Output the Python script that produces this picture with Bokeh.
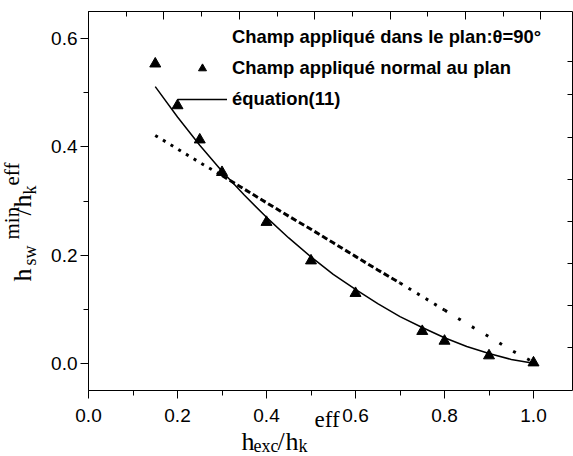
import math
from bokeh.plotting import figure
from bokeh.models import (Range1d, LinearAxis, SingleIntervalTicker, FixedTicker,
                          PrintfTickFormatter, CustomJSTickFormatter, Label,
                          Legend, LegendItem)
from bokeh.embed import file_html
from bokeh.resources import INLINE

# ---- data ----
x_tri = [0.15, 0.20, 0.25, 0.30, 0.40, 0.50, 0.60, 0.75, 0.80, 0.90, 1.00]
y_tri = [0.553, 0.476, 0.413, 0.353, 0.261, 0.190, 0.130, 0.060, 0.042, 0.015, 0.002]

x_eq = [0.15, 0.20, 0.25, 0.30, 0.35, 0.40, 0.45, 0.50, 0.55, 0.60, 0.65,
        0.70, 0.75, 0.80, 0.85, 0.90, 0.95, 1.00]
y_eq = [0.511, 0.455, 0.403, 0.355, 0.311, 0.270, 0.232, 0.197, 0.165, 0.137,
        0.111, 0.087, 0.067, 0.048, 0.032, 0.019, 0.008, 0.001]

x_plan = [0.15, 0.20, 0.25, 0.30, 0.35, 0.40, 0.45, 0.50, 0.55, 0.60, 0.65,
          0.70, 0.75, 0.80, 0.85, 0.90, 0.95, 1.00]
y_plan = [0.421, 0.396, 0.371, 0.347, 0.322, 0.297, 0.272, 0.248, 0.223, 0.198,
          0.173, 0.149, 0.124, 0.099, 0.074, 0.050, 0.025, 0.003]

legend_labels = ["Champ appliqué dans le plan:θ=90°",
                 "Champ appliqué normal au plan",
                 "équation(11)"]

# ---- geometry of the picture (pixels) ----
W, H = 573, 456
AX_L, AX_R, AX_T, AX_B = 88, 572, 11, 390      # axes box in canvas pixels
PX_X = 445.0                                     # pixels per x unit
PX_Y = 542.5                                     # pixels per y unit
Y0_PIX = 363.3                                   # canvas row of y = 0

XMIN, XMAX = 0.0, (AX_R - AX_L) / PX_X
YMIN, YMAX = (Y0_PIX - AX_B) / PX_Y, (Y0_PIX - AX_T) / PX_Y

# the frame covers the whole canvas; axes sit at fixed locations inside it
p = figure(width=W, height=H,
           x_range=Range1d(-AX_L / PX_X, (W - AX_L) / PX_X),
           y_range=Range1d((Y0_PIX - H) / PX_Y, Y0_PIX / PX_Y),
           output_backend="svg", toolbar_location=None,
           min_border=0, min_border_left=0, min_border_right=0,
           min_border_top=0, min_border_bottom=0)
p.grid.visible = False
p.outline_line_color = None
p.background_fill_color = "white"
p.border_fill_color = "white"

TICKFONT = "Liberation Sans"
xa, ya = p.xaxis[0], p.yaxis[0]
xa.fixed_location = YMIN
xa.bounds = (XMIN, XMAX)
ya.fixed_location = XMIN
ya.bounds = (YMIN, YMAX)
for ax in (xa, ya):
    ax.ticker = SingleIntervalTicker(interval=0.2, num_minor_ticks=2)
    ax.formatter = PrintfTickFormatter(format="%.1f")
    ax.major_tick_out = 8
    ax.major_tick_in = 0
    ax.minor_tick_out = 5
    ax.minor_tick_in = 0
    ax.axis_line_color = "black"
    ax.major_tick_line_color = "black"
    ax.minor_tick_line_color = "black"
    ax.major_label_text_font = TICKFONT
    ax.major_label_text_font_size = "19px"
    ax.major_label_text_color = "black"
xa.major_label_standoff = 10
ya.major_label_standoff = 3

blank = CustomJSTickFormatter(code="return ''")

# top axis: its own tick spacing (37.7 px per 0.1)
TOP_PX = 377.0
p.extra_x_ranges = {"top": Range1d(-AX_L / TOP_PX, (W - AX_L) / TOP_PX)}
top = LinearAxis(x_range_name="top", ticker=SingleIntervalTicker(interval=0.2, num_minor_ticks=2),
                 formatter=blank, major_tick_in=8, major_tick_out=0, minor_tick_in=5,
                 minor_tick_out=0, major_label_standoff=0, axis_line_color="black",
                 fixed_location=YMAX, bounds=(0, (AX_R - AX_L) / TOP_PX))
p.add_layout(top, "above")

# right axis: its own tick spacing (42.1 px per 0.1)
RT_PX = 421.0
R0 = -0.002
p.extra_y_ranges = {"right": Range1d(R0 - (H - AX_B) / RT_PX, R0 + AX_B / RT_PX)}
right = LinearAxis(y_range_name="right",
                   ticker=FixedTicker(ticks=[0.1, 0.2, 0.3, 0.4, 0.5, 0.6, 0.7, 0.78], minor_ticks=[]),
                   formatter=blank, major_tick_in=5, major_tick_out=0, minor_tick_in=0,
                   minor_tick_out=0, major_label_standoff=0, axis_line_color="black",
                   fixed_location=XMAX, bounds=(R0, R0 + (AX_B - AX_T) / RT_PX))
p.add_layout(right, "right")

# ---- series ----
r_eq = p.line(x_eq, y_eq, line_color="black", line_width=1.5)

segs = [(0, 4, "3 6"), (3, 12, "6 3"), (11, 14, "3 7"), (13, 18, "3 13")]
for a, b, dash in segs:
    p.line(x_plan[a:b], y_plan[a:b], line_color="black", line_width=3, line_dash=dash)
r_plan_leg = p.line(x=[], y=[], line_color="black", line_width=3, line_dash="3 9")

r_tri = p.scatter(x_tri, y_tri, marker="triangle", size=11, color="black")

legend = Legend(items=[LegendItem(label=legend_labels[0], renderers=[r_plan_leg]),
                       LegendItem(label=legend_labels[1], renderers=[r_tri]),
                       LegendItem(label=legend_labels[2], renderers=[r_eq])],
                location=(177, H - 110), glyph_width=50, glyph_height=20, label_height=20,
                label_standoff=5, spacing=9, padding=0, margin=0,
                border_line_color=None, background_fill_alpha=0,
                label_text_font="Liberation Sans", label_text_font_style="bold",
                label_text_font_size="18.4px", label_text_color="black")
p.add_layout(legend)

# ---- axis titles made of pieces ----
# (cx, cy) = canvas pixel position of the start of each piece's baseline
SERIF = "Liberation Serif"
DESC = 0.216          # descent of the serif face, in em

def piece(text, cx, cy, size, angle=0.0):
    d = DESC * size
    if angle:
        cx += d
    else:
        cy += d
    p.add_layout(Label(x=cx, y=H - cy, x_units="screen", y_units="screen",
                       text=text, angle=angle, text_font=SERIF, text_font_size=f"{size}px",
                       text_align="left", text_baseline="bottom", text_color="black"))

# x title  h_exc / h_k^eff
piece("h", 241, 450, 26)
piece("exc", 253, 452, 18)
piece("/", 277, 450, 26)
piece("h", 285, 450, 26)
piece("k", 298, 452, 18)
piece("eff", 314, 427, 23)

# y title  h_sw^min / h_k^eff  (rotated, reads bottom to top)
A = math.pi / 2
piece("h", 31, 281, 26, A)
piece("sw", 36, 265, 18, A)
piece("min", 19, 239, 21, A)
piece("/", 31, 215, 26, A)
piece("h", 31, 207, 26, A)
piece("k", 36, 194, 18, A)
piece("eff", 19, 185, 21, A)

open("out.html", "w").write(file_html(p, INLINE))
